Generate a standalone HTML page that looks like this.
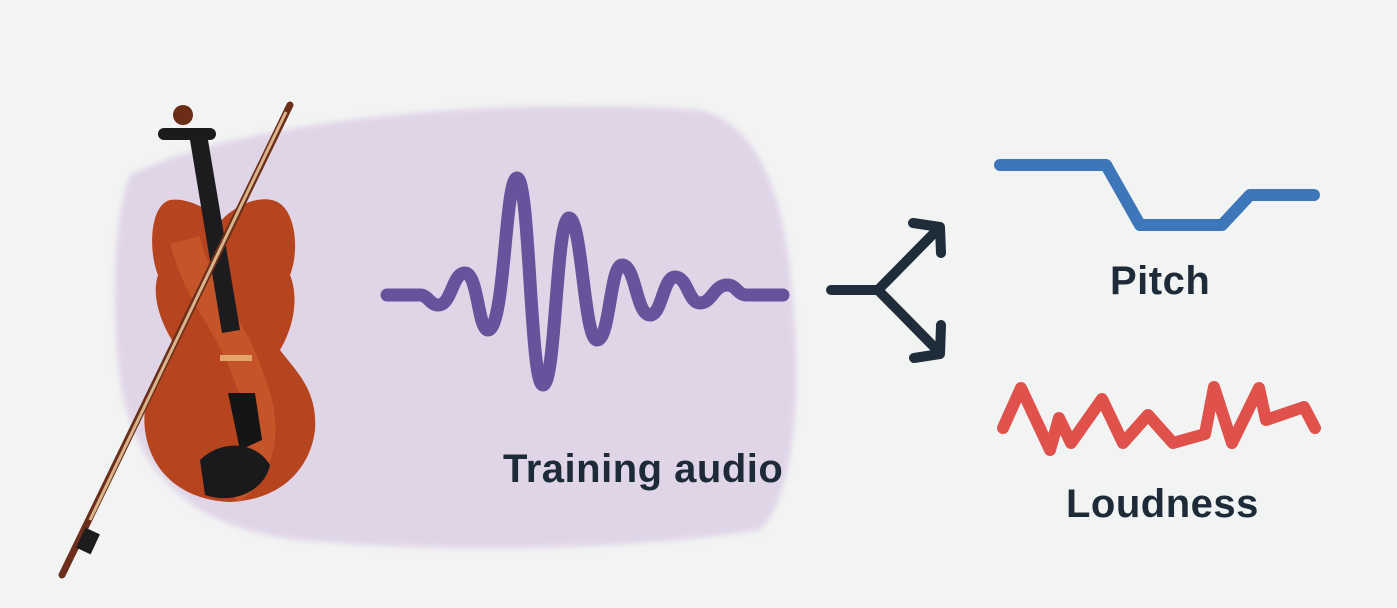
<!DOCTYPE html>
<html><head><meta charset="utf-8"><style>
html,body{margin:0;padding:0;background:#f2f3f3;}
body{width:1397px;height:608px;position:relative;overflow:hidden;font-family:"Liberation Sans",sans-serif;}
.t{position:absolute;font-weight:bold;color:#1d2b38;font-size:40px;white-space:nowrap;letter-spacing:0.5px}
</style></head><body>
<svg width="1397" height="608" style="position:absolute;left:0;top:0">
<defs><filter id="bl"><feGaussianBlur stdDeviation="3"/></filter></defs>
<path d="M130,175 C240,120 500,95 700,110 C780,130 790,250 795,330 C800,420 790,500 760,530 C600,555 400,550 300,540 C200,530 135,480 120,380 C110,300 115,210 130,175 Z" fill="#e0d5e7" filter="url(#bl)"/>
<!-- waveform -->
<path d="M387,295 L420,295 C428,295 430,305 438,305 C452,305 452,273 465,273 C478,273 478,330 488,330 C505,330 505,178 517,178 C530,178 530,385 543,385 C556,385 556,218 569,218 C582,218 584,340 597,340 C610,340 610,265 622,265 C636,265 636,315 650,315 C662,315 663,277 675,277 C688,277 688,303 700,303 C712,303 714,285 727,285 C737,285 737,295 747,295 L783,295" fill="none" stroke="#68529c" stroke-width="13" stroke-linecap="round" stroke-linejoin="round"/>
<!-- arrows -->
<g fill="none" stroke="#1f2d3a" stroke-width="10" stroke-linecap="round" stroke-linejoin="round">
<path d="M831,290 L878,290 L940,227 M913,223 L940,227 L941,253"/>
<path d="M878,290 L940,353 M914,358 L940,354 L941,325"/>
</g>
<!-- pitch -->
<path d="M1000,165 L1106,165 L1140,225 L1222,225 L1250,195 L1314,195" fill="none" stroke="#3e77b9" stroke-width="12" stroke-linecap="round" stroke-linejoin="round"/>
<!-- loudness -->
<path d="M1003,428 L1021,388 L1050,450 L1059,418 L1071,443 L1102,399 L1123,443 L1148,415 L1173,443 L1205,434 L1214,387 L1232,443 L1259,388 L1266,420 L1304,407 L1315,428" fill="none" stroke="#e0514b" stroke-width="12" stroke-linecap="round" stroke-linejoin="round"/>
<!-- violin -->
<g>
<path d="M170,200 C150,205 148,250 158,275 C150,300 165,330 175,345 C165,370 140,390 145,430 C150,470 180,500 230,502 C280,500 310,470 315,430 C318,390 295,370 280,350 C292,330 300,300 290,275 C300,250 296,205 272,200 C250,195 225,215 222,220 C215,215 192,197 170,200 Z" fill="#b6441e"/>
<path d="M185,240 C200,300 230,320 250,380 C270,430 260,470 230,490" fill="none" stroke="#d76a35" stroke-width="30" opacity="0.45"/>
<path d="M190,140 L208,140 L240,330 L222,333 Z" fill="#1c1c1e"/>
<circle cx="183" cy="115" r="10" fill="#6b2d16"/>
<rect x="158" y="128" width="58" height="12" rx="6" fill="#1b1b1d"/>
<path d="M228,393 L255,393 L262,440 L240,450 Z" fill="#151515"/>
<path d="M200,460 C220,440 255,440 270,465 C265,490 235,505 205,495 Z" fill="#1a1a1c"/>
<rect x="220" y="355" width="32" height="6" fill="#e3a56a"/>
<path d="M290,105 L62,575" stroke="#6a2e1a" stroke-width="7" stroke-linecap="round"/>
<path d="M286,112 L90,520" stroke="#d9b48a" stroke-width="3"/>
<rect x="80" y="530" width="16" height="22" fill="#1c1c1e" transform="rotate(25 88 541)"/>
</g>
</svg>
<div class="t" style="left:503px;top:447px">Training audio</div>
<div class="t" style="left:1110px;top:259px">Pitch</div>
<div class="t" style="left:1066px;top:482px">Loudness</div>
</body></html>
